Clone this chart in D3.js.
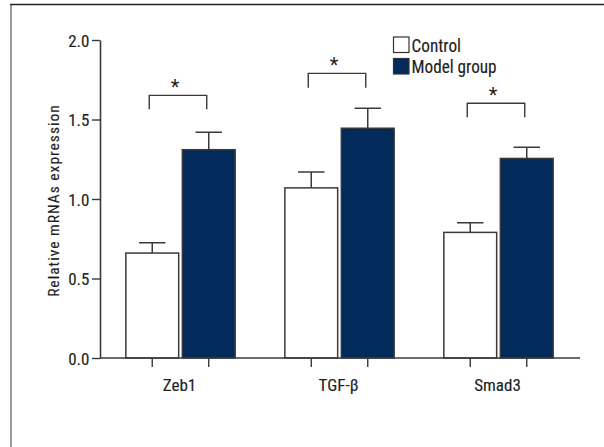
<!DOCTYPE html>
<html>
<head>
<meta charset="utf-8">
<script src="https://cdn.jsdelivr.net/npm/d3@7"></script>
<style>
  html, body { margin: 0; padding: 0; background: #fff; }
  svg { display: block; }
</style>
</head>
<body>
<svg id="chart" width="604" height="447"></svg>
<script>
// Relative mRNA expression, control vs model group
const categories = ["Zeb1", "TGF-\u03b2", "Smad3"];
const series = ["Control", "Model group"];
const controlMeans = [0.66, 1.07, 0.79];
const controlErrors = [0.065, 0.10, 0.06];
const modelMeans = [1.31, 1.445, 1.255];
const modelErrors = [0.11, 0.125, 0.07];
// significance brackets: top level and lower end of the legs
const bracketTop = [1.652, 1.79, 1.602];
const bracketFoot = [1.564, 1.70, 1.514];
const bracketMarks = ["*", "*", "*"];
const yTicks = [0, 0.5, 1.0, 1.5, 2.0];
const yLabel = "Relative mRNAs expression";

const colors = { "Control": "#ffffff", "Model group": "#022a5b" };
const ink = "#3a3a3a";
const FONT = `"Roboto Condensed", "Liberation Sans Narrow", "Roboto", sans-serif`;

const rows = categories.map((c, i) => ({
  category: c,
  values: [
    { key: series[0], mean: controlMeans[i], err: controlErrors[i] },
    { key: series[1], mean: modelMeans[i], err: modelErrors[i] }
  ],
  top: bracketTop[i], foot: bracketFoot[i], mark: bracketMarks[i]
}));

const svg = d3.select("#chart");

// outer frame
svg.append("line").attr("x1", 11).attr("x2", 11).attr("y1", 4).attr("y2", 447)
  .attr("stroke", "#9a9a9a").attr("stroke-width", 2);
svg.append("line").attr("x1", 10).attr("x2", 604).attr("y1", 4.5).attr("y2", 4.5)
  .attr("stroke", "#222").attr("stroke-width", 1.5);

const y = d3.scaleLinear().domain([0, 2]).range([358, 40]);
const x0 = d3.scaleBand().domain(categories).range([101, 578])
  .paddingInner(0.3125).paddingOuter(0.15625);
const x1 = d3.scaleBand().domain(series).range([0, x0.bandwidth()]).paddingInner(0.065);

function text(g, x, yy, str, size, anchor, opts = {}) {
  const sx = opts.sx || 1;
  const t = g.append("text")
    .attr("transform", `translate(${x},${yy})${opts.rotate ? ` rotate(${opts.rotate})` : ""} scale(${sx},1)`)
    .attr("text-anchor", anchor)
    .attr("font-family", FONT)
    .attr("font-size", size)
    .attr("fill", "#1e1e1e")
    .attr("stroke", "#1e1e1e")
    .attr("stroke-width", opts.weight === undefined ? 0.15 : opts.weight)
    .text(str);
  if (opts.spacing) t.attr("letter-spacing", opts.spacing);
  return t;
}

// y axis
const yAxis = svg.append("g").attr("transform", "translate(100,0)")
  .call(d3.axisLeft(y).tickValues(yTicks).tickFormat(d3.format(".1f")).tickSize(8).tickSizeOuter(0));
yAxis.select(".domain").attr("stroke", ink).attr("stroke-width", 1.6);
yAxis.selectAll(".tick line").attr("stroke", ink).attr("stroke-width", 1.4);
yAxis.selectAll(".tick text").remove();
yAxis.selectAll(".tick").each(function (d) {
  text(d3.select(this), -10.5, 6, d3.format(".1f")(d), 17, "end");
});

// bars
const groups = svg.append("g").selectAll("g").data(rows).join("g")
  .attr("transform", d => `translate(${x0(d.category)},0)`);

groups.selectAll("rect").data(d => d.values).join("rect")
  .attr("x", d => x1(d.key))
  .attr("y", d => y(d.mean))
  .attr("width", x1.bandwidth())
  .attr("height", d => y(0) - y(d.mean))
  .attr("fill", d => colors[d.key])
  .attr("stroke", ink).attr("stroke-width", 1.5);

// error bars (upper)
const capW = x1.bandwidth() / 2;
groups.selectAll("path.err").data(d => d.values).join("path")
  .attr("class", "err")
  .attr("fill", "none").attr("stroke", ink).attr("stroke-width", 1.5)
  .attr("d", d => {
    const cx = x1(d.key) + x1.bandwidth() / 2;
    return `M${cx},${y(d.mean)}V${y(d.mean + d.err)}M${cx - capW / 2},${y(d.mean + d.err)}H${cx + capW / 2}`;
  });

// x axis line and ticks under each bar
svg.append("line").attr("x1", 100).attr("x2", 580).attr("y1", y(0)).attr("y2", y(0))
  .attr("stroke", ink).attr("stroke-width", 1.6);
groups.selectAll("line.tk").data(d => d.values).join("line")
  .attr("class", "tk")
  .attr("x1", d => x1(d.key) + x1.bandwidth() / 2)
  .attr("x2", d => x1(d.key) + x1.bandwidth() / 2)
  .attr("y1", y(0)).attr("y2", y(0) + 9)
  .attr("stroke", ink).attr("stroke-width", 1.4);
groups.each(function (d) {
  text(d3.select(this), x0.bandwidth() / 2 - 1, 391, d.category, 17, "middle");
});

// significance brackets
groups.each(function (d) {
  const g = d3.select(this);
  const xl = x1(series[0]) + x1.bandwidth() / 2 - 3;
  const xr = x1(series[1]) + x1.bandwidth() / 2 - 2;
  g.append("path")
    .attr("fill", "none").attr("stroke", ink).attr("stroke-width", 1.4)
    .attr("d", `M${xl},${y(d.foot)}V${y(d.top)}H${xr}V${y(d.foot)}`);
  text(g, (xl + xr) / 2 - 3, y(d.top) - 1.5, d.mark, 20, "middle", { weight: 0 });
});

// y axis title
text(svg, 59, 200.5, yLabel, 15.5, "middle", { rotate: -90, spacing: 1 });

// legend
const legend = svg.append("g").attr("transform", "translate(393.5,37)");
const li = legend.selectAll("g").data(series).join("g")
  .attr("transform", (d, i) => `translate(0,${i * 21.5})`);
li.append("rect").attr("width", 15.5).attr("height", 15.5)
  .attr("fill", d => colors[d]).attr("stroke", "#333").attr("stroke-width", 1.2);
li.each(function (d) {
  text(d3.select(this), 18, 14.5, d, 18.5, "start", { sx: 0.93 });
});
</script>
</body>
</html>
